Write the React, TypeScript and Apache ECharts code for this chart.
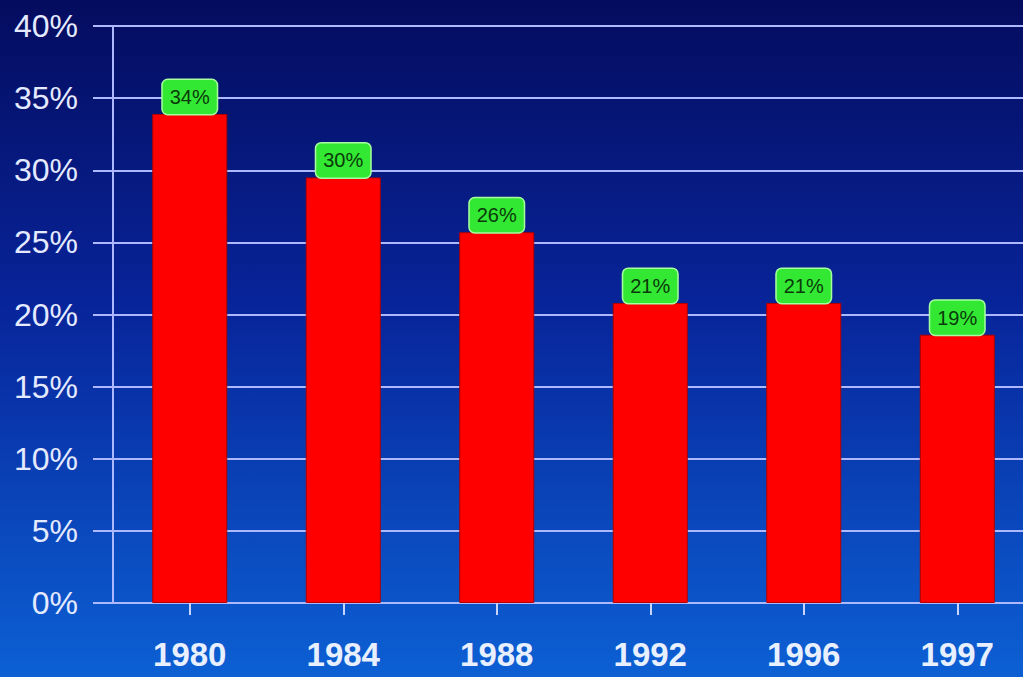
import React, { useEffect, useRef } from "react";
import * as echarts from "echarts";

const categories = ["1980", "1984", "1988", "1992", "1996", "1997"];
const values = [33.9, 29.5, 25.7, 20.8, 20.8, 18.6];
const yMin = 0;
const yMax = 40;
const yInterval = 5;

export default function App() {
  const ref = useRef<HTMLDivElement>(null);
  useEffect(() => {
    document.body.style.margin = "0";
    const chart = echarts.init(ref.current!, undefined, { renderer: "svg" });
    const lineColor = "#aeb8ff";
    chart.setOption({
      animation: false,
      grid: { left: 113, right: 0, top: 26, bottom: 74, containLabel: false },
      xAxis: {
        type: "category",
        data: categories,
        axisLine: { show: true, lineStyle: { color: lineColor, width: 2 } },
        axisTick: { show: true, alignWithLabel: true, length: 12, lineStyle: { color: "#c8d4ff", width: 2 } },
        axisLabel: {
          margin: 35,
          color: "#e8f0ff",
          fontFamily: "Liberation Sans, Arial, sans-serif",
          fontWeight: "bold",
          fontSize: 33,
        },
      },
      yAxis: {
        type: "value",
        min: yMin,
        max: yMax,
        interval: yInterval,
        axisLine: { show: true, lineStyle: { color: lineColor, width: 2 } },
        axisTick: { show: true, length: 20, lineStyle: { color: lineColor, width: 2 } },
        splitLine: { show: true, lineStyle: { color: lineColor, width: 2 } },
        axisLabel: {
          margin: 35,
          color: "#e4eaff",
          fontFamily: "Liberation Sans, Arial, sans-serif",
          fontSize: 32,
          formatter: "{value}%",
        },
      },
      series: [
        {
          type: "bar",
          data: values,
          barWidth: 75,
          itemStyle: { color: "#ff0000", borderColor: "#b00000", borderWidth: 1 },
          label: {
            show: true,
            position: "top",
            distance: 0,
            formatter: (p: any) => Math.round(p.value) + "%",
            backgroundColor: "#33e833",
            borderColor: "#a8ffa0",
            borderWidth: 1.5,
            borderRadius: 5,
            padding: [7, 7, 7, 7],
            color: "#0a3a0a",
            fontFamily: "Liberation Sans, Arial, sans-serif",
            fontSize: 20,
          },
        },
      ],
    });
    return () => chart.dispose();
  }, []);
  return (
    <div
      style={{
        position: "fixed",
        left: 0,
        top: 0,
        width: 1023,
        height: 677,
        overflow: "hidden",
        background: "linear-gradient(to bottom, #040c5e 0%, #08249a 45%, #0c60d4 100%)",
      }}
    >
      <div ref={ref} style={{ position: "absolute", left: 0, top: 0, width: 1034, height: 677 }} />
    </div>
  );
}
